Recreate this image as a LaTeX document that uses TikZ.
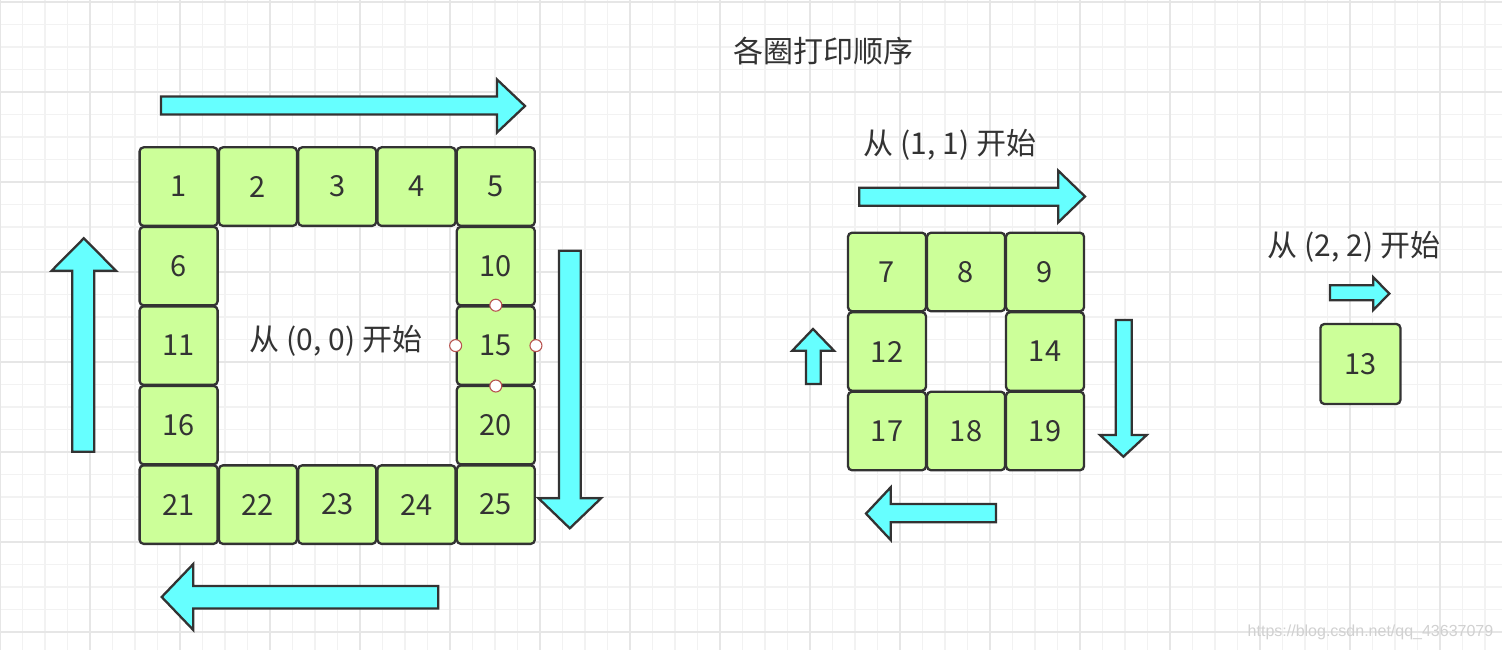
\documentclass[tikz,border=0pt]{standalone}
\usepackage{fontspec}
\setmainfont{Noto Sans CJK SC}
\newfontfamily\wmfont{Liberation Sans}
\definecolor{gridminor}{HTML}{F2F2F2}
\definecolor{gridmajor}{HTML}{E6E6E6}
\definecolor{cellfill}{HTML}{CCFF99}
\definecolor{edge}{HTML}{333333}
\definecolor{arrowfill}{HTML}{66FFFF}
\definecolor{handle}{HTML}{B85450}
\tikzset{
  cell/.style={draw=edge, fill=cellfill, line width=2.3pt, rounded corners=4pt,
    minimum width=78pt, minimum height=78.5pt, inner sep=0pt, text=edge,
    font=\fontsize{29}{29}\selectfont},
  blockarrow/.style={draw=edge, fill=arrowfill, line width=2.3pt, line join=miter},
  label/.style={text=edge, inner sep=0pt, font=\fontsize{30}{30}\selectfont},
  handledot/.style={circle, draw=handle, fill=white, line width=1.1pt, minimum size=12pt, inner sep=0pt},
}
\begin{document}
\begin{tikzpicture}[x=1pt,y=-1pt]
\useasboundingbox (0,0) rectangle (1502,650);
\fill[white] (0,0) rectangle (1502,650);
% grid
\foreach \i in {0,...,67} {
  \draw[gridminor, line width=1.3pt] ({22.5*\i},0) -- ({22.5*\i},650);
}
\foreach \j in {0,...,29} {
  \draw[gridminor, line width=1.3pt] (0,{2+22.5*\j}) -- (1502,{2+22.5*\j});
}
\foreach \i in {0,...,16} {
  \draw[gridmajor, line width=1.4pt] ({90*\i},0) -- ({90*\i},650);
}
\foreach \j in {0,...,7} {
  \draw[gridmajor, line width=1.4pt] (0,{2+90*\j}) -- (1502,{2+90*\j});
}

% title
\node[label] (title) at (823,51) {各圈打印顺序};

% big ring (5x5)
\foreach \n/\c/\r in {1/0/0,2/1/0,3/2/0,4/3/0,5/4/0,
                      6/0/1,10/4/1,11/0/2,15/4/2,16/0/3,20/4/3,
                      21/0/4,22/1/4,23/2/4,24/3/4,25/4/4} {
  \node[cell] (c\n) at ({178.6+79.3*\c},{186.6+79.5*\r}) {\n};
}
\node[label] (start0) at (336,341) {从 (0, 0) 开始};

% selection handles on 15
\node[handledot] (h1) at (c15.north) {};
\node[handledot] (h2) at (c15.west) {};
\node[handledot] (h3) at (c15.east) {};
\node[handledot] (h4) at (c15.south) {};

% big ring arrows
\draw[blockarrow] (161,96.5) -- (497,96.5) -- (497,79.5) -- (525,106) -- (497,132.5) -- (497,114.5) -- (161,114.5) -- cycle;
\draw[blockarrow] (559,250.7) -- (580.7,250.7) -- (580.7,498.3) -- (601,498.3) -- (569.8,528.3) -- (538.5,498.3) -- (559,498.3) -- cycle;
\draw[blockarrow] (438.3,586) -- (193.3,586) -- (193.3,564) -- (161.7,597) -- (193.3,630) -- (193.3,608.5) -- (438.3,608.5) -- cycle;
\draw[blockarrow] (72.3,451.7) -- (72.3,270.7) -- (51.7,270.7) -- (83.8,238.3) -- (116,270.7) -- (94.3,270.7) -- (94.3,451.7) -- cycle;

% medium ring (3x3)
\foreach \n/\c/\r in {7/0/0,8/1/0,9/2/0,12/0/1,14/2/1,17/0/2,18/1/2,19/2/2} {
  \node[cell] (c\n) at ({887+79*\c},{272+79.5*\r}) {\n};
}
\node[label] (start1) at (950,145) {从 (1, 1) 开始};

\draw[blockarrow] (859.3,187.7) -- (1058.3,187.7) -- (1058.3,170.7) -- (1085,196.5) -- (1058.3,222.3) -- (1058.3,205.7) -- (859.3,205.7) -- cycle;
\draw[blockarrow] (1115.7,320) -- (1131.7,320) -- (1131.7,435) -- (1146.7,435) -- (1123.4,456.7) -- (1100,435) -- (1115.7,435) -- cycle;
\draw[blockarrow] (996,504) -- (890.7,504) -- (890.7,487.3) -- (866,513.6) -- (890.7,540) -- (890.7,522.3) -- (996,522.3) -- cycle;
\draw[blockarrow] (806,384) -- (806,350.7) -- (792.3,350.7) -- (813,329) -- (834,350.7) -- (820.7,350.7) -- (820.7,384) -- cycle;

% single centre cell
\node[cell, minimum width=80pt, minimum height=80pt] (c13) at (1360.4,364) {13};
\node[label] (start2) at (1354,246.5) {从 (2, 2) 开始};
\draw[blockarrow] (1330,285.2) -- (1373.3,285.2) -- (1373.3,277.3) -- (1389.3,293.6) -- (1373.3,310) -- (1373.3,300.2) -- (1330,300.2) -- cycle;

% watermark
\node[text=black!18, inner sep=0pt, font=\wmfont\fontsize{16}{16}\selectfont] (wm) at (1370.5,632) {https://blog.csdn.net/qq\_43637079};
\end{tikzpicture}
\end{document}
